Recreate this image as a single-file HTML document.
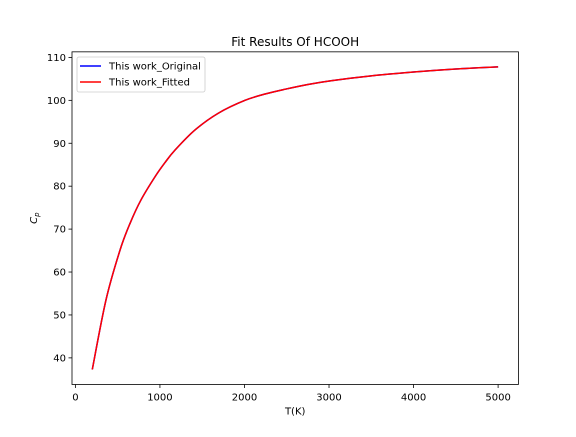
<!DOCTYPE html>
<html><head><meta charset="utf-8"><style>
body{margin:0;background:#fff}
svg text{font-family:"DejaVu Sans","Liberation Sans",sans-serif;fill:#000}
</style></head><body>
<svg id="chart" width="576" height="432" xmlns="http://www.w3.org/2000/svg">
<rect width="576" height="432" fill="#fff"/>
<g id="plot"></g>
</svg>
<script>
const temps=[200,362,528,650,776,942,1060,1178,1415,1690,2006,2250,2483,2750,3035,3500,4000,4500,5000];
const cpOriginal=[37.3,53.5,65.1,71.5,76.8,82.2,85.5,88.4,93.1,97.0,100.0,101.5,102.6,103.7,104.6,105.7,106.6,107.3,107.8];
const cpFitted=[37.3,53.5,65.1,71.5,76.8,82.2,85.5,88.4,93.1,97.0,100.0,101.5,102.6,103.7,104.6,105.7,106.6,107.3,107.8];
const xTicks=[0,1000,2000,3000,4000,5000];
const yTicks=[40,50,60,70,80,90,100,110];

const L=72,R=518.4,T=51.84,B=384.48;
const xMin=-40,xMax=5240,yMin=33.8,yMax=111.3;
const sx=v=>L+(v-xMin)/(xMax-xMin)*(R-L);
const sy=v=>B-(v-yMin)/(yMax-yMin)*(B-T);
const NS="http://www.w3.org/2000/svg";
const g=document.getElementById('plot');
function mk(tag,attrs,parent){const e=document.createElementNS(NS,tag);for(const k in attrs)e.setAttribute(k,attrs[k]);(parent||g).appendChild(e);return e;}
function pathFor(xs,ys){
  const p=xs.map((x,i)=>[sx(x),sy(ys[i])]);
  let d='M'+p[0][0]+','+p[0][1];
  for(let i=0;i<p.length-1;i++){
    const p0=p[Math.max(0,i-1)],p1=p[i],p2=p[i+1],p3=p[Math.min(p.length-1,i+2)];
    const c1=[p1[0]+(p2[0]-p0[0])/6,p1[1]+(p2[1]-p0[1])/6];
    const c2=[p2[0]-(p3[0]-p1[0])/6,p2[1]-(p3[1]-p1[1])/6];
    d+=' C'+c1[0]+','+c1[1]+' '+c2[0]+','+c2[1]+' '+p2[0]+','+p2[1];
  }
  return d;
}
const l1=mk('path',{d:pathFor(temps,cpOriginal),fill:'none',stroke:'#0000ff','stroke-width':1.5});


const l2=mk('path',{d:pathFor(temps,cpFitted),fill:'none',stroke:'#ff0000','stroke-width':1.5});


const frame=mk('rect',{x:L,y:T,width:R-L,height:B-T,fill:'none',stroke:'#000','stroke-width':0.8});


xTicks.forEach(v=>{
  const x=sx(v);
  const t=mk('line',{x1:x,x2:x,y1:B,y2:B+3.5,stroke:'#000','stroke-width':0.8});
  
  
  const lb=mk('text',{x:x,y:B+16,'text-anchor':'middle','font-size':10});
  lb.textContent=v;
  
  
});
yTicks.forEach(v=>{
  const y=sy(v);
  const t=mk('line',{x1:L-3.5,x2:L,y1:y,y2:y,stroke:'#000','stroke-width':0.8});
  
  
  const lb=mk('text',{x:L-6,y:y+3.5,'text-anchor':'end','font-size':10});
  lb.textContent=v;
  
  
});
const title=mk('text',{x:(L+R)/2,y:T-6,'text-anchor':'middle','font-size':12});
title.textContent='Fit Results Of HCOOH';


const xl=mk('text',{x:(L+R)/2,y:B+30,'text-anchor':'middle','font-size':10});
xl.textContent='T(K)';


const yl=mk('text',{x:0,y:0,'text-anchor':'middle','font-size':10,'font-style':'italic',transform:'translate(37,'+((T+B)/2)+') rotate(-90)'});
yl.innerHTML='C<tspan font-size="7" dy="2">p</tspan>';


const lg=mk('g',{});


mk('rect',{x:77,y:57,width:128,height:35,rx:2,fill:'#fff',stroke:'#ccc','stroke-width':0.8},lg);
[['This work_Original','#0000ff',66],['This work_Fitted','#ff0000',82]].forEach(([n,c,y])=>{
  const e=mk('g',{},lg);
  
  
  mk('line',{x1:80,x2:101,y1:y,y2:y,stroke:c,'stroke-width':1.5},e);
  const t=mk('text',{x:109,y:y+3.5,'font-size':10},e);
  t.textContent=n;
});
</script>
</body></html>
